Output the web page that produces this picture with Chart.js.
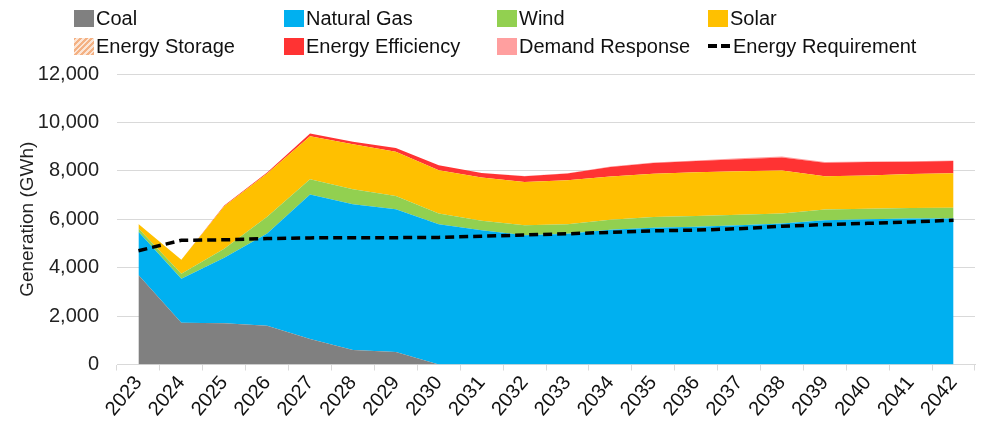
<!DOCTYPE html>
<html>
<head>
<meta charset="utf-8">
<script src="https://cdn.jsdelivr.net/npm/chart.js@4/dist/chart.umd.min.js"></script>
<style>
  html, body { margin: 0; padding: 0; background: #fff; }
  #wrap { position: relative; width: 981px; height: 421px; font-family: "Liberation Sans", Arial, sans-serif; }
  #chart { position: absolute; left: 0; top: 0; }
  .lg { position: absolute; display: flex; align-items: center; font-size: 20px; color: #111; white-space: nowrap; line-height: 1; }
  .sw { width: 20px; height: 17px; margin-right: 2px; }
  .dash { width: 22px; height: 4px; margin-right: 3px; background: repeating-linear-gradient(90deg, #000 0 9px, transparent 9px 13px); }
</style>
</head>
<body>
<div id="wrap">
  <canvas id="chart" width="981" height="421"></canvas>
</div>
<script>
// Annual generation by resource (GWh), stacked in this order
const years = ['2023','2024','2025','2026','2027','2028','2029','2030','2031','2032',
               '2033','2034','2035','2036','2037','2038','2039','2040','2041','2042'];
const coal       = [3700,1720,1700,1600,1050, 600, 520,   0,   0,   0,   0,   0,   0,   0,   0,   0,   0,   0,   0,   0];
const naturalGas = [1780,1825,2710,3810,5970,6020,5890,5793,5545,5340,5400,5570,5650,5690,5750,5820,5960,6000,6030,6030];
const wind       = [ 140, 200, 370, 690, 630, 620, 550, 440, 390, 410, 390, 410, 440, 440, 440, 420, 440, 430, 430, 440];
const solar      = [ 180, 580,1760,1790,1780,1860,1830,1790,1790,1790,1820,1790,1790,1810,1790,1770,1380,1380,1410,1430];
const storage    = [   0,   0,   0,   0,   0,   0,   0,   0,   0,   0,   0,   0,   0,   0,   0,   0,   0,   0,   0,   0];
const efficiency = [   0,   0,  30,  40, 110, 100, 150, 210, 190, 240, 280, 390, 440, 470, 500, 540, 550, 560, 510, 510];
const demandResp = [   0,   0,   0,   0,   0,   0,   0,   0,   0,  10,  10,  20,  20,  20,  40,  40,  30,  20,  20,  20];
const requirement= [4700,5130,5150,5200,5230,5240,5240,5250,5300,5350,5400,5460,5520,5550,5610,5710,5780,5830,5890,5960];
const yTicks = [0, 2000, 4000, 6000, 8000, 10000, 12000];

const FONT = '"Liberation Sans", Arial, sans-serif';

// hatched fill for energy storage
function hatch() {
  const c = document.createElement('canvas');
  c.width = 6; c.height = 6;
  const g = c.getContext('2d');
  g.fillStyle = '#fbe5d6'; g.fillRect(0, 0, 6, 6);
  g.strokeStyle = '#f4b183'; g.lineWidth = 2;
  g.beginPath(); g.moveTo(0, 6); g.lineTo(6, 0); g.moveTo(-1, 1); g.lineTo(1, -1); g.moveTo(5, 7); g.lineTo(7, 5); g.stroke();
  return g.createPattern(c, 'repeat');
}

function area(label, data, color, first) {
  return {
    label, data, type: 'line', stack: 'gen', order: 1,
    backgroundColor: color, borderColor: color, borderWidth: 0,
    pointRadius: 0, pointHoverRadius: 0, tension: 0,
    fill: first ? 'origin' : '-1'
  };
}

const datasets = [
  area('Coal', coal, '#808080', true),
  area('Natural Gas', naturalGas, '#00b0f0'),
  area('Wind', wind, '#92d050'),
  area('Solar', solar, '#ffc000'),
  area('Energy Storage', storage, hatch()),
  area('Energy Efficiency', efficiency, '#ff3333'),
  area('Demand Response', demandResp, '#ff9f9f'),
  {
    label: 'Energy Requirement', data: requirement, type: 'line', stack: 'req', order: 0,
    borderColor: '#000', borderWidth: 3.5, borderDash: [9, 5], fill: false,
    pointRadius: 0, pointHoverRadius: 0, tension: 0
  }
];

// legend laid out in four fixed columns
const legendItems = [
  ['Coal', 'sw', 'background:#808080', 74, 18],
  ['Natural Gas', 'sw', 'background:#00b0f0', 284, 18],
  ['Wind', 'sw', 'background:#92d050', 497, 18],
  ['Solar', 'sw', 'background:#ffc000', 708, 18],
  ['Energy Storage', 'sw', 'background:repeating-linear-gradient(135deg,#f4b183 0 2px,#fbe5d6 2px 4px)', 74, 46],
  ['Energy Efficiency', 'sw', 'background:#ff3333', 284, 46],
  ['Demand Response', 'sw', 'background:#ff9f9f', 497, 46],
  ['Energy Requirement', 'dash', '', 708, 46]
];
const wrap = document.getElementById('wrap');
legendItems.forEach(([text, cls, style, x, y]) => {
  const d = document.createElement('div');
  d.className = 'lg';
  d.style.left = x + 'px';
  d.style.top = (y - 10) + 'px';
  d.innerHTML = '<span class="' + cls + '" style="' + style + '"></span><span></span>';
  d.lastChild.textContent = text;
  wrap.appendChild(d);
});

new Chart(document.getElementById('chart'), {
  type: 'line',
  data: { labels: years, datasets },
  options: {
    responsive: false,
    animation: false,
    events: [],
    layout: { padding: { top: 74, right: 6, bottom: 0, left: 0 } },
    plugins: { legend: { display: false }, tooltip: { enabled: false } },
    scales: {
      x: {
        offset: true,
        grid: { offset: true, drawOnChartArea: false, color: '#d9d9d9', tickLength: 6, tickColor: '#d9d9d9' },
        border: { color: '#d9d9d9' },
        ticks: { font: { family: FONT, size: 20 }, color: '#111', minRotation: 50, maxRotation: 50, padding: 1, autoSkip: false },
        afterFit: s => { s.height = 56.5; }
      },
      y: {
        stacked: true,
        min: 0, max: 12000,
        afterBuildTicks: s => { s.ticks = yTicks.map(v => ({ value: v })); },
        grid: { color: '#d9d9d9', drawTicks: false },
        border: { display: false },
        ticks: {
          font: { family: FONT, size: 20 }, color: '#222', padding: 18,
          callback: v => v.toLocaleString('en-US')
        },
        title: { display: true, text: 'Generation (GWh)', font: { family: FONT, size: 19 }, color: '#222', padding: { top: 16, bottom: 0 } },
        afterFit: s => { s.width = 117; }
      }
    }
  }
});
</script>
</body>
</html>
